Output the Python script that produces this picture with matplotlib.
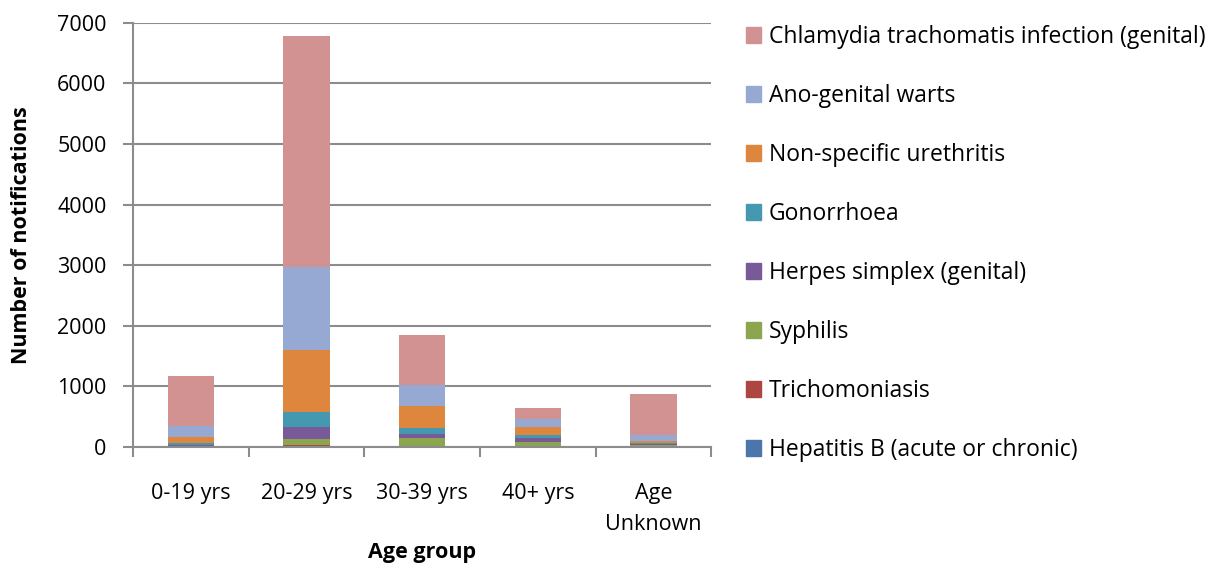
import matplotlib.pyplot as plt
from matplotlib.patches import Patch
import numpy as np

plt.rcParams['font.family'] = ['Open Sans', 'DejaVu Sans']

age_groups = ['0-19 yrs', '20-29 yrs', '30-39 yrs', '40+ yrs', 'Age\nUnknown']

# bottom to top of each stack
hep_b = [5, 10, 8, 5, 10]
trich = [3, 18, 5, 2, 3]
syphilis = [5, 95, 130, 80, 15]
herpes = [25, 208, 72, 57, 25]
gonorrhoea = [25, 248, 94, 49, 15]
nsu = [100, 1019, 368, 137, 25]
warts = [190, 1365, 347, 127, 95]
chlamydia = [810, 3818, 825, 188, 677]

series = [
    ('Hepatitis B (acute or chronic)', hep_b, '#4A76AC'),
    ('Trichomoniasis', trich, '#AD4643'),
    ('Syphilis', syphilis, '#8CA650'),
    ('Herpes simplex (genital)', herpes, '#775A97'),
    ('Gonorrhoea', gonorrhoea, '#4499B0'),
    ('Non-specific urethritis', nsu, '#DE863E'),
    ('Ano-genital warts', warts, '#95A9D2'),
    ('Chlamydia trachomatis infection (genital)', chlamydia, '#D39292'),
]

fs = 15.5

fig = plt.figure(figsize=(12.23, 5.88), dpi=100)
ax = fig.add_axes([0.1087, 0.24, 0.473, 0.721])

x = np.arange(len(age_groups))
bottom = np.zeros(len(age_groups))
for name, vals, col in series:
    ax.bar(x, vals, 0.4, bottom=bottom, color=col, label=name, zorder=3)
    bottom += np.array(vals)

ax.set_xlim(-0.5, len(age_groups) - 0.5)
ax.set_ylim(0, 7000)
ax.set_yticks(range(0, 7001, 1000))
ax.yaxis.grid(True, color='#8c8c8c', linewidth=1.5, zorder=0)
ax.set_axisbelow(True)

for s in ['top', 'right']:
    ax.spines[s].set_visible(False)
for s in ['left', 'bottom']:
    ax.spines[s].set_color('#8c8c8c')
    ax.spines[s].set_linewidth(1.5)
ax.spines['bottom'].set_zorder(4)

ax.set_xticks(x)
ax.set_xticklabels(age_groups, fontsize=fs, linespacing=1.6)
ax.set_xticks(np.arange(-0.5, len(age_groups), 1), minor=True)
ax.tick_params(axis='x', which='major', length=0, pad=26)
ax.tick_params(axis='x', which='minor', length=7, width=1.5, color='#8c8c8c')
ax.tick_params(axis='y', length=7, width=1.5, color='#8c8c8c', labelsize=fs, pad=12)

ax.set_xlabel('Age group', fontsize=fs, fontweight='bold', labelpad=5)
ax.set_ylabel('Number of notifications', fontsize=fs, fontweight='bold', labelpad=18)

handles = [Patch(color=c, label=n) for n, v, c in series][::-1]
fig.legend(handles=handles, loc='upper left', bbox_to_anchor=(0.593, 0.993),
           frameon=False, fontsize=16.5, labelspacing=1.53,
           handlelength=0.68, handleheight=0.68, handletextpad=0.33)

fig.savefig('out.png', dpi=100)
